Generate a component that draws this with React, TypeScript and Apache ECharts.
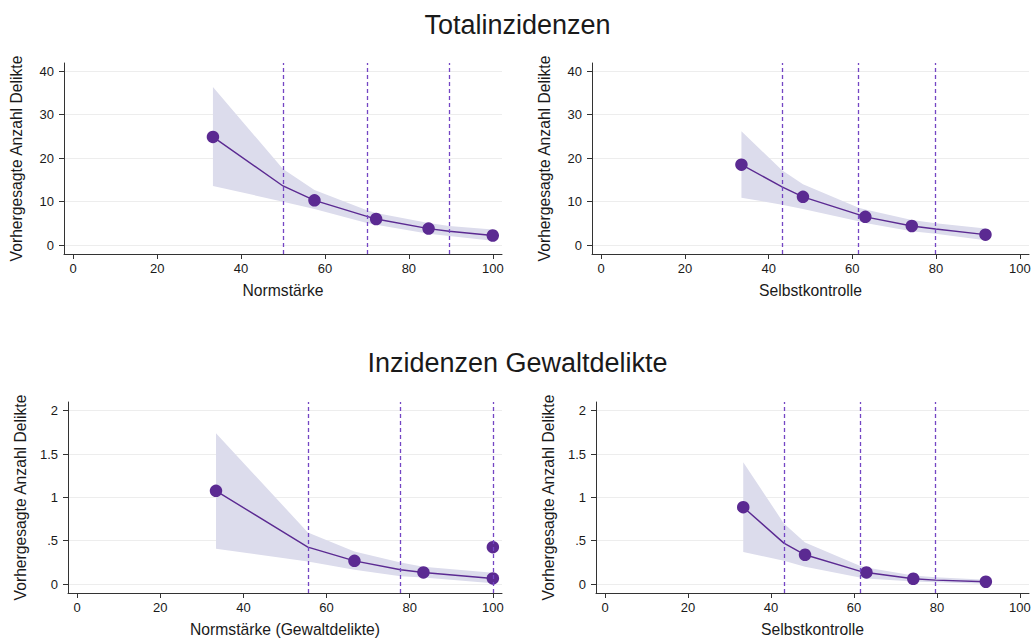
import React, { useEffect, useRef } from "react";
import * as echarts from "echarts";

// Panel 1: Totalinzidenzen – Normstärke
const lineX1 = [33.3, 50, 57.5, 70, 72.2, 84.7, 89.6, 100];
const lineY1 = [24.9, 13.6, 10.3, 6.6, 6.0, 3.8, 3.2, 2.2];
const upper1 = [36.4, 17.5, 12.7, 8.0, 7.4, 5.1, 4.4, 3.6];
const lower1 = [13.6, 10.0, 8.3, 5.1, 4.7, 2.6, 2.1, 1.0];
const dotX1 = [33.3, 57.5, 72.2, 84.7, 100];
const dotY1 = [24.9, 10.3, 6.0, 3.8, 2.2];
const cuts1 = [50, 70, 89.6];

// Panel 2: Totalinzidenzen – Selbstkontrolle
const lineX2 = [33.5, 43.2, 48.2, 61.5, 63.1, 74.2, 79.9, 91.8];
const lineY2 = [18.5, 13.4, 11.1, 7.0, 6.5, 4.4, 3.7, 2.4];
const upper2 = [26.2, 17.2, 14.0, 8.6, 8.2, 5.8, 5.0, 3.8];
const lower2 = [10.9, 9.3, 8.3, 5.5, 5.1, 3.2, 2.6, 1.1];
const dotX2 = [33.5, 48.2, 63.1, 74.2, 91.8];
const dotY2 = [18.5, 11.1, 6.5, 4.4, 2.4];
const cuts2 = [43.2, 61.5, 79.9];

// Panel 3: Gewaltdelikte – Normstärke (Gewaltdelikte)
const lineX3 = [33.4, 55.5, 66.7, 77.8, 83.3, 100];
const lineY3 = [1.075, 0.426, 0.268, 0.165, 0.134, 0.065];
const upper3 = [1.74, 0.595, 0.376, 0.25, 0.2, 0.13];
const lower3 = [0.407, 0.26, 0.165, 0.09, 0.075, 0.01];
const dotX3 = [33.4, 66.7, 83.3, 100, 100];
const dotY3 = [1.075, 0.268, 0.134, 0.065, 0.426];
const cuts3 = [55.5, 77.8, 100];

// Panel 4: Gewaltdelikte – Selbstkontrolle
const lineX4 = [33.3, 43.1, 48.2, 61.4, 63.0, 74.3, 79.7, 91.8];
const lineY4 = [0.887, 0.472, 0.338, 0.15, 0.134, 0.061, 0.045, 0.027];
const upper4 = [1.405, 0.7, 0.48, 0.21, 0.19, 0.1, 0.08, 0.05];
const lower4 = [0.369, 0.27, 0.2, 0.075, 0.065, 0.03, 0.02, 0.005];
const dotX4 = [33.3, 48.2, 63.0, 74.3, 91.8];
const dotY4 = [0.887, 0.338, 0.134, 0.061, 0.027];
const cuts4 = [43.1, 61.4, 79.7];

const xTicks = [0, 20, 40, 60, 80, 100];
const yTicksTop = [0, 10, 20, 30, 40];
const yTicksBottom = [0, 0.5, 1, 1.5, 2];

const titles = ["Totalinzidenzen", "Inzidenzen Gewaltdelikte"];
const xNames = ["Normstärke", "Selbstkontrolle", "Normstärke (Gewaltdelikte)", "Selbstkontrolle"];
const yName = "Vorhergesagte Anzahl Delikte";

const FONT = "'Liberation Sans', Arial, Helvetica, sans-serif";
const PURPLE = "#5B2A92";
const DASH = "#7446C4";
const BAND = "#DCDCEC";
const AXIS = "#333333";
const TEXT = "#1a1a1a";

const panels = [
  { lx: lineX1, ly: lineY1, up: upper1, lo: lower1, dx: dotX1, dy: dotY1, cuts: cuts1, yt: yTicksTop, ymin: -2.05, ymax: 41.9 },
  { lx: lineX2, ly: lineY2, up: upper2, lo: lower2, dx: dotX2, dy: dotY2, cuts: cuts2, yt: yTicksTop, ymin: -2.05, ymax: 41.9 },
  { lx: lineX3, ly: lineY3, up: upper3, lo: lower3, dx: dotX3, dy: dotY3, cuts: cuts3, yt: yTicksBottom, ymin: -0.103, ymax: 2.1 },
  { lx: lineX4, ly: lineY4, up: upper4, lo: lower4, dx: dotX4, dy: dotY4, cuts: cuts4, yt: yTicksBottom, ymin: -0.103, ymax: 2.1 },
];

const grids = [
  { left: 64, top: 63, width: 438, height: 191 },
  { left: 592, top: 63, width: 437, height: 191 },
  { left: 68, top: 402, width: 434, height: 191 },
  { left: 596, top: 402, width: 433, height: 191 },
];

function fmtY(v: number) {
  if (v === 0) return "0";
  return String(v).replace(/^0\./, ".");
}

export default function App() {
  const ref = useRef<HTMLDivElement>(null);
  useEffect(() => {
    if (!ref.current) return;
    const chart = echarts.init(ref.current, null, { renderer: "svg" });

    const xAxis: any[] = [];
    const yAxis: any[] = [];
    const series: any[] = [];

    panels.forEach((p, i) => {
      xAxis.push({
        type: "value",
        gridIndex: i,
        min: -2.2,
        max: 102.2,
        name: xNames[i],
        nameLocation: "middle",
        nameGap: 28,
        nameTextStyle: { fontFamily: FONT, fontSize: 15.7, color: TEXT },
        axisLine: { show: true, onZero: false, lineStyle: { color: AXIS, width: 1 } },
        axisTick: { show: true, length: 5, customValues: xTicks, lineStyle: { color: AXIS } },
        axisLabel: { customValues: xTicks, margin: 8, fontFamily: FONT, fontSize: 13, color: TEXT },
        splitLine: { show: false },
      });
      yAxis.push({
        type: "value",
        gridIndex: i,
        min: p.ymin,
        max: p.ymax,
        name: yName,
        nameLocation: "middle",
        nameGap: 40,
        nameTextStyle: { fontFamily: FONT, fontSize: 15.7, color: TEXT },
        axisLine: { show: true, onZero: false, lineStyle: { color: AXIS, width: 1 } },
        axisTick: { show: true, length: 5, customValues: p.yt, lineStyle: { color: AXIS } },
        axisLabel: { customValues: p.yt, margin: 10, fontFamily: FONT, fontSize: 13, color: TEXT, formatter: fmtY },
        splitLine: { show: true, lineStyle: { color: "#EDEDED", width: 1 } },
      });

      const bandData = p.lx.map((x, k) => [x, p.lo[k], p.up[k]]);
      series.push({
        type: "custom",
        xAxisIndex: i,
        yAxisIndex: i,
        silent: true,
        z: 1,
        encode: { x: 0, y: [1, 2] },
        data: bandData,
        renderItem: (params: any, api: any) => {
          if (params.dataIndex !== 0) return null;
          const top = p.lx.map((x, k) => api.coord([x, p.up[k]]));
          const bot = p.lx.map((x, k) => api.coord([x, p.lo[k]])).reverse();
          return {
            type: "polygon",
            shape: { points: top.concat(bot) },
            style: { fill: BAND },
          };
        },
      });
      series.push({
        type: "line",
        xAxisIndex: i,
        yAxisIndex: i,
        z: 3,
        silent: true,
        symbol: "none",
        data: p.lx.map((x, k) => [x, p.ly[k]]),
        lineStyle: { color: PURPLE, width: 1.4 },
        markLine: {
          silent: true,
          symbol: ["none", "none"],
          label: { show: false },
          lineStyle: { color: DASH, type: [4, 3], width: 1.3 },
          data: p.cuts.map((c) => ({ xAxis: c })),
        },
      });
      series.push({
        type: "scatter",
        xAxisIndex: i,
        yAxisIndex: i,
        z: 4,
        silent: true,
        symbol: "circle",
        symbolSize: 12.5,
        itemStyle: { color: PURPLE, opacity: 1 },
        data: p.dx.map((x, k) => [x, p.dy[k]]),
      });
    });

    chart.setOption({
      animation: false,
      backgroundColor: "#ffffff",
      title: [
        { text: titles[0], left: "center", top: 6, textStyle: { fontFamily: FONT, fontSize: 27, fontWeight: "normal", color: TEXT } },
        { text: titles[1], left: "center", top: 344, textStyle: { fontFamily: FONT, fontSize: 27, fontWeight: "normal", color: TEXT } },
      ],
      grid: grids,
      xAxis,
      yAxis,
      series,
    });
    return () => chart.dispose();
  }, []);
  return (
    <div
      ref={ref}
      style={{ position: "absolute", left: 0, top: 0, width: 1035, height: 639, background: "#fff" }}
    />
  );
}
